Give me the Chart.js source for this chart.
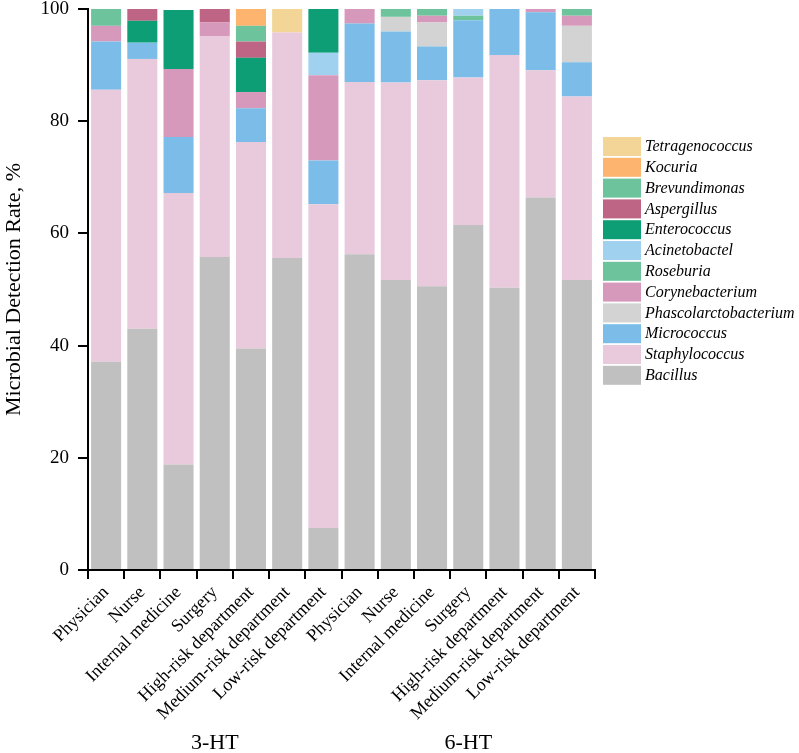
<!DOCTYPE html>
<html>
<head>
<meta charset="utf-8">
<script src="https://cdn.jsdelivr.net/npm/chart.js@4.4.1/dist/chart.umd.min.js"></script>
<style>
  html, body { margin: 0; padding: 0; background: #fff; }
  canvas { display: block; }
</style>
</head>
<body>
<canvas id="chart" width="799" height="753"></canvas>
<script>
// categories (7 per time point)
const categories = [
  'Physician', 'Nurse', 'Internal medicine', 'Surgery', 'High-risk department', 'Medium-risk department', 'Low-risk department',
  'Physician', 'Nurse', 'Internal medicine', 'Surgery', 'High-risk department', 'Medium-risk department', 'Low-risk department'
];
const groups = ['3-HT', '6-HT'];
const yTicks = [0, 20, 40, 60, 80, 100];

// detection rate (%) per genus, bottom of the stack first
const bacillus       = [37.1, 43.0, 18.8, 55.8, 39.5, 55.6, 7.5, 56.3, 51.7, 50.6, 61.5, 50.3, 66.4, 51.7];
const staphylococcus = [48.5, 48.1, 48.4, 39.3, 36.8, 40.2, 57.7, 30.7, 35.2, 36.7, 26.3, 41.5, 22.7, 32.7];
const micrococcus    = [8.6, 2.9, 10.0, 0, 6.0, 0, 7.8, 10.4, 9.1, 6.0, 10.2, 8.2, 10.3, 6.1];
const phascolarcto   = [0, 0, 0, 0, 0, 0, 0, 0, 2.6, 4.3, 0, 0, 0, 6.5];
const corynebact     = [2.8, 0, 12.1, 2.5, 2.9, 0, 15.2, 2.6, 0, 1.2, 0, 0, 0.6, 1.8];
const roseburia      = [3.0, 0, 0, 0, 0, 0, 0, 0, 1.4, 1.2, 0.8, 0, 0, 1.2];
const acinetobactel  = [0, 0, 0, 0, 0, 0, 4.0, 0, 0, 0, 1.2, 0, 0, 0];
const enterococcus   = [0, 3.9, 10.5, 0, 6.1, 0, 7.8, 0, 0, 0, 0, 0, 0, 0];
const aspergillus    = [0, 2.1, 0, 2.4, 2.9, 0, 0, 0, 0, 0, 0, 0, 0, 0];
const brevundimonas  = [0, 0, 0, 0, 2.8, 0, 0, 0, 0, 0, 0, 0, 0, 0];
const kocuria        = [0, 0, 0, 0, 3.2, 0, 0, 0, 0, 0, 0, 0, 0, 0];
const tetragenococ   = [0, 0, 0, 0, 0, 4.2, 0, 0, 0, 0, 0, 0, 0, 0];

const SERIF = "'Liberation Serif', 'Times New Roman', serif";

const series = [
  ['Bacillus', bacillus, '#c0c0c0'],
  ['Staphylococcus', staphylococcus, '#e9cadd'],
  ['Micrococcus', micrococcus, '#7bbde8'],
  ['Phascolarctobacterium', phascolarcto, '#d3d3d3'],
  ['Corynebacterium', corynebact, '#d799bb'],
  ['Roseburia', roseburia, '#6dc49c'],
  ['Acinetobactel', acinetobactel, '#a0d2ef'],
  ['Enterococcus', enterococcus, '#0e9e76'],
  ['Aspergillus', aspergillus, '#be6484'],
  ['Brevundimonas', brevundimonas, '#6dc49c'],
  ['Kocuria', kocuria, '#fdb46e'],
  ['Tetragenococcus', tetragenococ, '#f2d597']
];

// legend on the right, top item = last dataset
const sideLegend = {
  id: 'sideLegend',
  afterDraw(chart) {
    const ctx = chart.ctx;
    const ds = chart.data.datasets.slice().reverse();
    ctx.save();
    ctx.font = 'italic 16px ' + SERIF;
    ctx.textBaseline = 'middle';
    ds.forEach((d, i) => {
      const y = 137 + i * 20.8;
      ctx.fillStyle = d.backgroundColor;
      ctx.fillRect(603, y, 38, 19);
      ctx.fillStyle = '#000';
      ctx.fillText(d.label, 645, y + 10);
    });
    ctx.restore();
  }
};

// group labels under the rotated category names
const groupLabels = {
  id: 'groupLabels',
  afterDraw(chart) {
    const x = chart.scales.x;
    const ctx = chart.ctx;
    ctx.save();
    ctx.font = '22px ' + SERIF;
    ctx.fillStyle = '#000';
    ctx.textAlign = 'center';
    ctx.textBaseline = 'middle';
    groups.forEach((g, k) => {
      const cx = (x.getPixelForValue(k * 7) + x.getPixelForValue(k * 7 + 6)) / 2;
      ctx.fillText(g, cx, 743);
    });
    ctx.restore();
  }
};

new Chart(document.getElementById('chart'), {
  type: 'bar',
  data: {
    labels: categories,
    datasets: series.map(([label, data, color]) => ({
      label: label,
      data: data,
      backgroundColor: color,
      borderWidth: 0,
      categoryPercentage: 1,
      barPercentage: 0.83
    }))
  },
  options: {
    responsive: false,
    animation: false,
    layout: { padding: { top: 9, right: 204, left: 0, bottom: 0 } },
    plugins: {
      legend: { display: false },
      tooltip: { enabled: false }
    },
    scales: {
      x: {
        stacked: true,
        afterFit: (s) => { s.height = 183; s.paddingLeft = 0; s.paddingRight = 0; },
        border: { color: '#000', width: 2 },
        grid: { drawOnChartArea: false, drawTicks: true, tickLength: 9, color: '#000', lineWidth: 2 },
        ticks: {
          color: '#000',
          font: { family: SERIF, size: 18 },
          maxRotation: 45,
          minRotation: 45,
          autoSkip: false,
          padding: 3
        }
      },
      y: {
        stacked: true,
        min: 0,
        max: 100,
        afterFit: (s) => { s.width = 88; s.paddingTop = 0; s.paddingBottom = 0; },
        afterBuildTicks: (s) => { s.ticks = yTicks.map(v => ({ value: v })); },
        border: { color: '#000', width: 2 },
        grid: { drawOnChartArea: false, drawTicks: true, tickLength: 10, color: '#000', lineWidth: 2 },
        ticks: {
          color: '#000',
          font: { family: SERIF, size: 19 },
          padding: 9
        },
        title: {
          display: true,
          text: 'Microbial Detection Rate, %',
          color: '#000',
          font: { family: SERIF, size: 22 },
          padding: { top: 1, bottom: 0 }
        }
      }
    }
  },
  plugins: [sideLegend, groupLabels]
});
</script>
</body>
</html>
